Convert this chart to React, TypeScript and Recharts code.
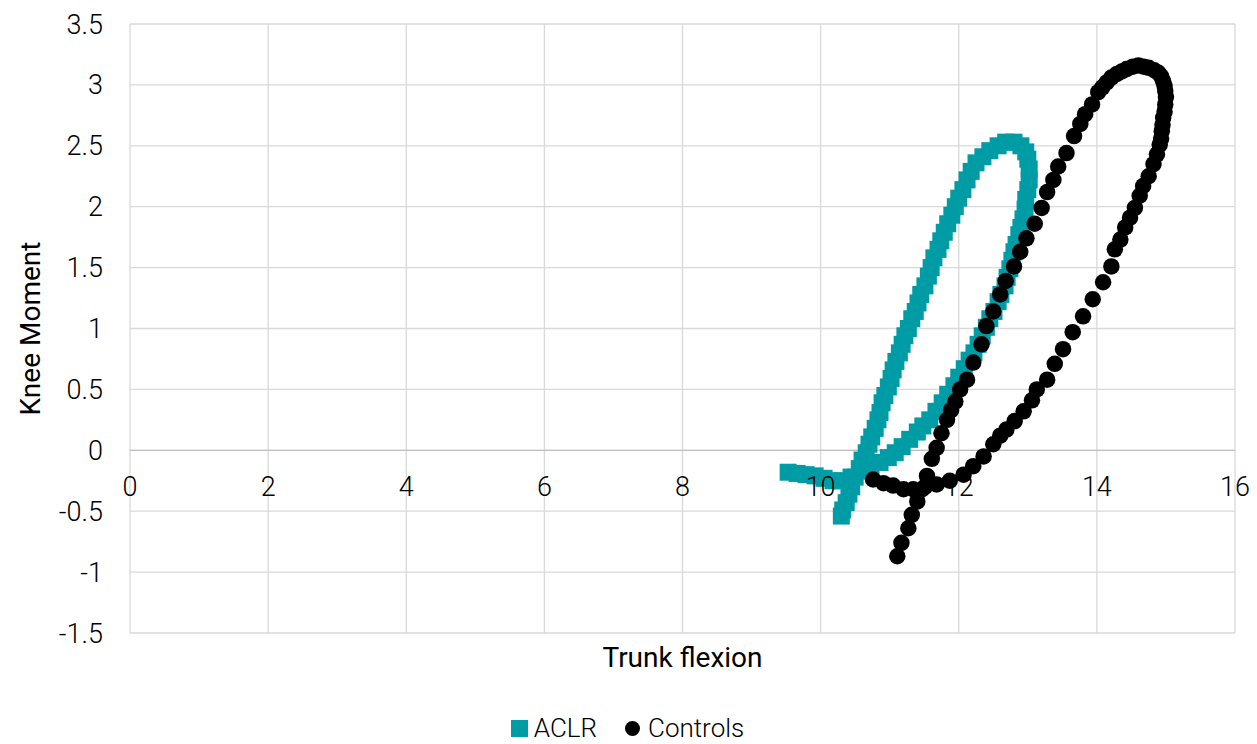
import React from 'react';
import { ScatterChart, Scatter, XAxis, YAxis, CartesianGrid, Legend, ReferenceLine, Label } from 'recharts';

const X_TICKS = [0, 2, 4, 6, 8, 10, 12, 14, 16];
const Y_TICKS = [-1.5, -1, -0.5, 0, 0.5, 1, 1.5, 2, 2.5, 3, 3.5];
const X_TITLE = 'Trunk flexion';
const Y_TITLE = 'Knee Moment';
const SERIES_NAMES = ['ACLR', 'Controls'];

const aclrX = [
  9.53, 9.66, 9.79, 9.92, 10.05, 10.18, 10.31, 10.44, 10.59, 10.73,
  10.86, 10.98, 11.08, 11.18, 11.29, 11.40, 11.48, 11.58, 11.67, 11.76,
  11.84, 11.93, 12.00, 12.08, 12.15, 12.22, 12.28, 12.34, 12.40, 12.45,
  12.51, 12.57, 12.61, 12.67, 12.70, 12.74, 12.77, 12.80, 12.83, 12.87,
  12.90, 12.93, 12.96, 12.97, 13.00, 13.02, 13.02, 13.00, 12.97, 12.90,
  12.80, 12.68, 12.57, 12.45, 12.35, 12.25, 12.18, 12.12, 12.06, 12.00,
  11.95, 11.90, 11.84, 11.79, 11.74, 11.70, 11.64, 11.60, 11.56, 11.51,
  11.45, 11.41, 11.37, 11.32, 11.27, 11.22, 11.18, 11.14, 11.09, 11.05,
  11.02, 10.98, 10.93, 10.89, 10.86, 10.83, 10.79, 10.74, 10.70, 10.66,
  10.60, 10.56, 10.50, 10.45, 10.41, 10.37, 10.32, 10.30,
];
const aclrY = [
  -0.18, -0.19, -0.20, -0.21, -0.23, -0.25, -0.25, -0.22, -0.17, -0.13,
  -0.10, -0.06, -0.02, 0.03, 0.09, 0.15, 0.20, 0.25, 0.32, 0.39,
  0.46, 0.53, 0.60, 0.67, 0.74, 0.80, 0.87, 0.94, 1.01, 1.08,
  1.14, 1.22, 1.28, 1.35, 1.42, 1.49, 1.56, 1.63, 1.69, 1.77,
  1.83, 1.90, 1.98, 2.06, 2.14, 2.22, 2.31, 2.39, 2.45, 2.50,
  2.53, 2.53, 2.50, 2.46, 2.41, 2.36, 2.29, 2.22, 2.14, 2.07,
  2.00, 1.93, 1.86, 1.79, 1.72, 1.65, 1.58, 1.50, 1.43, 1.35,
  1.28, 1.21, 1.14, 1.08, 1.00, 0.94, 0.87, 0.80, 0.73, 0.66,
  0.59, 0.52, 0.45, 0.39, 0.31, 0.25, 0.18, 0.11, 0.05, -0.02,
  -0.08, -0.15, -0.22, -0.30, -0.36, -0.43, -0.49, -0.54,
];

const controlsX = [
  11.11, 11.17, 11.27, 11.32, 11.40, 11.47, 11.54, 11.61, 11.68, 11.75,
  11.83, 11.89, 11.95, 12.02, 12.12, 12.21, 12.33, 12.40, 12.50, 12.60,
  12.68, 12.80, 12.89, 12.98, 13.10, 13.20, 13.28, 13.37, 13.44, 13.56,
  13.67, 13.76, 13.83, 13.93, 14.02, 14.08, 14.14, 14.21, 14.29, 14.36,
  14.43, 14.52, 14.60, 14.68, 14.75, 14.83, 14.89, 14.93, 14.96, 14.98,
  14.99, 15.00, 14.99, 14.98, 14.96, 14.95, 14.94, 14.93, 14.91, 14.87,
  14.82, 14.75, 14.67, 14.62, 14.55, 14.48, 14.41, 14.34, 14.26, 14.21,
  14.09, 13.94, 13.80, 13.65, 13.51, 13.39, 13.28, 13.13, 13.06, 12.94,
  12.81, 12.69, 12.60, 12.50, 12.36, 12.21, 12.07, 11.87, 11.68, 11.51,
  11.34, 11.20, 11.05, 10.91, 10.76,
];
const controlsY = [
  -0.87, -0.76, -0.64, -0.53, -0.42, -0.32, -0.21, -0.07, 0.02, 0.14,
  0.25, 0.33, 0.40, 0.50, 0.58, 0.72, 0.87, 1.02, 1.14, 1.28,
  1.39, 1.51, 1.63, 1.74, 1.86, 1.99, 2.12, 2.22, 2.33, 2.44,
  2.58, 2.68, 2.76, 2.84, 2.94, 2.98, 3.02, 3.06, 3.09, 3.11,
  3.13, 3.15, 3.16, 3.15, 3.14, 3.12, 3.10, 3.07, 3.03, 2.99,
  2.95, 2.90, 2.84, 2.78, 2.73, 2.67, 2.62, 2.56, 2.51, 2.43,
  2.35, 2.25, 2.17, 2.09, 1.99, 1.91, 1.83, 1.73, 1.65, 1.51,
  1.38, 1.24, 1.10, 0.97, 0.83, 0.71, 0.58, 0.50, 0.41, 0.32,
  0.24, 0.17, 0.12, 0.05, -0.05, -0.13, -0.20, -0.25, -0.28, -0.30,
  -0.32, -0.32, -0.29, -0.27, -0.24,
];

const aclrData = aclrX.map((x, i) => ({ x, y: aclrY[i] }));
const controlsData = controlsX.map((x, i) => ({ x, y: controlsY[i] }));

const W = 1257;
const H = 744;
const M_TOP = 24;
const M_RIGHT = 22;
const Y_AXIS_W = 130;
const LEGEND_H = 30;
const X_AXIS_H = 111 - LEGEND_H;
const PLOT_H = H - M_TOP - X_AXIS_H - LEGEND_H;
const Y_MIN = Y_TICKS[0];
const Y_MAX = Y_TICKS[Y_TICKS.length - 1];
const ZERO_OFFSET = (PLOT_H * (0 - Y_MIN)) / (Y_MAX - Y_MIN);

const TEAL = '#009ca6';
const FONT = 'Roboto, "Noto Sans", sans-serif';
const MARK = 17;
const DOT = 16.5;

const SquareShape = (props: any) => {
  const { cx, cy } = props;
  if (cx == null || cy == null) return null;
  return <rect x={cx - MARK / 2} y={cy - MARK / 2} width={MARK} height={MARK} fill={TEAL} />;
};

const CircleShape = (props: any) => {
  const { cx, cy } = props;
  if (cx == null || cy == null) return null;
  return <circle cx={cx} cy={cy} r={DOT / 2} fill="#000" />;
};

const XTick = (props: any) => {
  const { x, y, payload } = props;
  return (
    <text
      x={x}
      y={y - ZERO_OFFSET + 37}
      textAnchor="middle"
      dominantBaseline="central"
      fontSize={27}
      fontWeight={300}
      fontFamily={FONT}
      fill="#000"
    >
      {payload.value}
    </text>
  );
};

const LegendContent = () => (
  <div
    style={{
      width: W,
      height: LEGEND_H,
      display: 'flex',
      justifyContent: 'center',
      alignItems: 'center',
      fontFamily: FONT,
      fontWeight: 300,
      fontSize: 26,
      lineHeight: `${LEGEND_H}px`,
      color: '#000',
      paddingRight: 2,
      boxSizing: 'border-box',
      whiteSpace: 'nowrap',
    }}
  >
    <span style={{ display: 'inline-block', width: 17, height: 17, background: TEAL, marginRight: 6 }} />
    <span style={{ marginRight: 28 }}>{SERIES_NAMES[0]}</span>
    <span style={{ display: 'inline-block', width: 15, height: 15, borderRadius: '50%', background: '#000', marginRight: 8 }} />
    <span>{SERIES_NAMES[1]}</span>
  </div>
);

export default function App() {
  return (
    <div style={{ position: 'absolute', top: 0, left: 0, width: W, height: H, background: '#fff' }}>
      <ScatterChart width={W} height={H} margin={{ top: M_TOP, right: M_RIGHT, bottom: 0, left: 0 }}>
        <CartesianGrid stroke="#d9d9d9" strokeWidth={1.3} />
        <XAxis
          type="number"
          dataKey="x"
          domain={[X_TICKS[0], X_TICKS[X_TICKS.length - 1]]}
          ticks={X_TICKS}
          interval={0}
          height={X_AXIS_H}
          axisLine={false}
          tickLine={false}
          tickSize={0}
          tickMargin={0}
          tick={<XTick />}
        >
          <Label
            content={(p: any) => {
              const vb = p.viewBox || {};
              return (
                <text
                  x={vb.x + vb.width / 2}
                  y={vb.y + 24}
                  textAnchor="middle"
                  dominantBaseline="central"
                  fontSize={28}
                  fontFamily={FONT}
                  fill="#000"
                >
                  {X_TITLE}
                </text>
              );
            }}
          />
        </XAxis>
        <YAxis
          type="number"
          dataKey="y"
          domain={[Y_MIN, Y_MAX]}
          ticks={Y_TICKS}
          interval={0}
          width={Y_AXIS_W}
          axisLine={false}
          tickLine={false}
          tickSize={0}
          tickMargin={27}
          tick={{ fontSize: 27, fontWeight: 300, fontFamily: FONT, fill: '#000' }}
        >
          <Label
            content={() => (
              <text
                x={30}
                y={M_TOP + PLOT_H / 2}
                textAnchor="middle"
                dominantBaseline="central"
                fontSize={28}
                fontFamily={FONT}
                fill="#000"
                transform={`rotate(-90, 30, ${M_TOP + PLOT_H / 2})`}
              >
                {Y_TITLE}
              </text>
            )}
          />
        </YAxis>
        <ReferenceLine y={0} stroke="#bfbfbf" strokeWidth={1.3} />
        <Legend
          verticalAlign="bottom"
          wrapperStyle={{ position: 'absolute', top: 728 - LEGEND_H / 2, bottom: 'auto', left: 0, width: W, height: LEGEND_H }}
          content={<LegendContent />}
        />
        <Scatter name={SERIES_NAMES[0]} data={aclrData} fill={TEAL} shape={SquareShape} isAnimationActive={false} />
        <Scatter name={SERIES_NAMES[1]} data={controlsData} fill="#000" shape={CircleShape} isAnimationActive={false} />
      </ScatterChart>
    </div>
  );
}
